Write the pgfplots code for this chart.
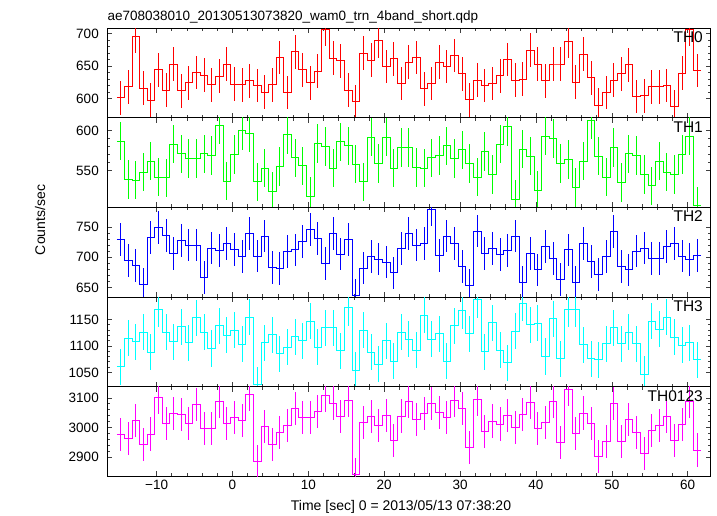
\documentclass[border=0pt]{standalone}
\usepackage{fontspec}
\setmainfont{Liberation Sans}
\usepackage{pgfplots}
\usepackage{pgfplotstable}
\pgfplotsset{compat=1.18}
\definecolor{cR}{RGB}{255,0,0}
\definecolor{cG}{RGB}{0,255,0}
\definecolor{cB}{RGB}{0,0,255}
\definecolor{cC}{RGB}{0,255,255}
\definecolor{cM}{RGB}{255,0,255}
\pgfplotstableread{
l t a b c d e
-15.25 -14.75 601 587 729 1061 2977
-14.25 -13.75 618 539 694 1115 2963
-13.25 -12.75 696 538 686 1108 3023
-12.25 -11.75 616 548 655 1126 2944
-11.25 -10.75 597 562 732 1088 2978
-10.25 -9.75 644 542 749 1169 3102
-9.25 -8.75 613 541 736 1126 3014
-8.25 -7.75 653 583 706 1108 3047
-7.25 -6.75 612 571 728 1136 3044
-6.25 -5.75 624 565 720 1106 3014
-5.25 -4.75 640 565 720 1153 3077
-4.25 -3.75 636 571 666 1126 2997
-3.25 -2.75 621 569 715 1095 2997
-2.25 -1.75 634 607 711 1138 3087
-1.25 -0.75 653 537 723 1120 3014
-0.25 0.25 622 570 713 1130 3034
0.75 1.25 621 600 701 1103 3023
1.75 2.25 627 597 739 1154 3113
2.75 3.25 620 536 702 1027 2884
3.75 4.25 610 553 735 1106 3003
4.75 5.25 621 524 683 1121 2944
5.75 6.25 663 555 681 1085 2983
6.75 7.25 609 595 709 1097 3007
7.75 8.25 672 566 712 1117 3063
8.75 9.25 644 556 726 1110 3033
9.75 10.25 624 518 746 1147 3033
10.75 11.25 642 584 731 1098 3053
11.75 12.25 706 580 690 1134 3107
12.75 13.25 662 553 739 1134 3083
13.75 14.25 658 586 705 1091 3038
14.75 15.25 613 581 729 1172 3092
15.75 16.25 595 558 637 1054 2842
16.75 17.25 670 536 682 1130 3017
17.75 18.25 659 592 701 1088 3038
18.75 19.25 689 559 697 1065 3008
19.75 20.25 649 592 692 1110 3041
20.75 21.25 661 553 674 1071 2957
21.75 22.25 623 579 714 1126 3039
22.75 23.25 656 579 739 1113 3087
23.75 24.25 663 554 720 1092 3028
24.75 25.25 615 553 722 1158 3047
25.75 26.25 623 566 779 1113 3080
26.75 27.25 656 569 703 1123 3050
27.75 28.25 649 581 735 1071 3033
28.75 29.25 666 565 722 1138 3090
29.75 30.25 638 576 685 1166 3063
30.75 31.25 598 559 653 1123 2933
31.75 32.25 628 542 743 1187 3096
32.75 33.25 620 574 706 1089 2986
33.75 34.25 623 545 714 1144 3022
34.75 35.25 635 583 704 1092 3012
35.75 36.25 660 605 711 1068 3042
36.75 37.25 628 514 735 1128 3001
37.75 38.25 630 577 658 1180 3043
38.75 39.25 674 568 706 1140 3084
39.75 40.25 653 525 679 1143 2997
40.75 41.25 627 593 717 1080 3016
41.75 42.25 653 590 698 1151 3089
42.75 43.25 653 559 663 1076 2950
43.75 44.25 688 564 712 1169 3130
44.75 45.25 625 529 658 1169 2981
45.75 46.25 668 562 722 1102 3049
46.75 47.25 632 613 693 1076 3014
47.75 48.25 590 568 671 1074 2902
48.75 49.25 609 542 701 1104 2952
49.75 50.25 628 579 742 1134 3082
50.75 51.25 638 535 684 1104 2954
51.75 52.25 652 571 679 1126 3027
52.75 53.25 603 569 710 1104 2984
53.75 54.25 604 545 715 1047 2911
54.75 55.25 618 531 698 1147 2991
55.75 56.25 618 562 698 1132 3008
56.75 57.25 620 548 717 1154 3038
57.75 58.25 587 545 723 1116 2957
58.75 59.25 639 570 702 1101 3011
59.75 60.25 706 593 696 1106 3089
60.75 61.25 643 506 703 1074 2924
61.75 62.25 643 506 703 1074 2924
}\data
\pgfplotsset{
  panel/.style={
    scale only axis, width=603.2pt, height=89.6pt, anchor=north west,
    xmin=-16.5, xmax=63, xtick={-10,0,...,60}, minor x tick num=4,
    minor y tick num=4, tick align=inside,
    major tick length=5pt, minor tick length=3pt,
    every tick/.style={black!75, line width=0.7pt},
    axis line style={line width=0.9pt},
    xticklabels={},
    ticklabel style={font=\fontsize{13.5}{16}\selectfont},
    /pgf/number format/assume math mode=true,
    /pgf/number format/set thousands separator={},
    yticklabel style={xshift=-5pt},
  },
}
\tikzset{lab/.style={font=\fontsize{15.5}{18}\selectfont, anchor=north east, inner sep=0pt}}
\begin{document}
\begin{tikzpicture}
\useasboundingbox (0,0) rectangle (717pt,516pt);
\begin{axis}[panel, at={(107.3pt,487.7pt)}, ymin=570, ymax=708, ytick={600,650,700}]
\addplot[cR, const plot mark left, no marks, line width=0.8pt] table[x=l, y=a] {\data};
\addplot[cR, draw=none, no marks, forget plot, skip coords between index={77}{78},
  error bars/.cd, y dir=both, y fixed=26, error mark=none,
  error bar style={draw=cR, solid, line width=0.9pt}] table[x=t, y=a] {\data};
\node[lab] at (rel axis cs:0.9876,0.962) {TH0};
\end{axis}
\begin{axis}[panel, at={(107.3pt,398.1pt)}, ymin=504, ymax=616, ytick={550,600}]
\addplot[cG, const plot mark left, no marks, line width=0.8pt] table[x=l, y=b] {\data};
\addplot[cG, draw=none, no marks, forget plot, skip coords between index={77}{78},
  error bars/.cd, y dir=both, y fixed=24, error mark=none,
  error bar style={draw=cG, solid, line width=0.9pt}] table[x=t, y=b] {\data};
\node[lab] at (rel axis cs:0.9876,0.962) {TH1};
\end{axis}
\begin{axis}[panel, at={(107.3pt,308.5pt)}, ymin=634, ymax=782, ytick={650,700,750}]
\addplot[cB, const plot mark left, no marks, line width=0.8pt] table[x=l, y=c] {\data};
\addplot[cB, draw=none, no marks, forget plot, skip coords between index={77}{78},
  error bars/.cd, y dir=both, y fixed=27, error mark=none,
  error bar style={draw=cB, solid, line width=0.9pt}] table[x=t, y=c] {\data};
\node[lab] at (rel axis cs:0.9876,0.962) {TH2};
\end{axis}
\begin{axis}[panel, at={(107.3pt,218.9pt)}, ymin=1023, ymax=1192, ytick={1050,1100,1150}]
\addplot[cC, const plot mark left, no marks, line width=0.8pt] table[x=l, y=d] {\data};
\addplot[cC, draw=none, no marks, forget plot, skip coords between index={77}{78},
  error bars/.cd, y dir=both, y fixed=34, error mark=none,
  error bar style={draw=cC, solid, line width=0.9pt}] table[x=t, y=d] {\data};
\node[lab] at (rel axis cs:0.9876,0.962) {TH3};
\end{axis}
\begin{axis}[panel, at={(107.3pt,129.3pt)}, ymin=2835, ymax=3138, ytick={2900,3000,3100},
  xticklabels={−10,0,10,20,30,40,50,60}]
\addplot[cM, const plot mark left, no marks, line width=0.8pt] table[x=l, y=e] {\data};
\addplot[cM, draw=none, no marks, forget plot, skip coords between index={77}{78},
  error bars/.cd, y dir=both, y fixed=56, error mark=none,
  error bar style={draw=cM, solid, line width=0.9pt}] table[x=t, y=e] {\data};
\node[lab] at (rel axis cs:0.9876,0.962) {TH0123};
\end{axis}
\node[anchor=base west, inner sep=0pt, font=\fontsize{13.5}{16}\selectfont] at (107.3pt,495.5pt) {ae708038010\_20130513073820\_wam0\_trn\_4band\_short.qdp};
\node[rotate=90, font=\fontsize{14}{16}\selectfont] at (40pt,296pt) {Counts/sec};
\node[font=\fontsize{14}{16}\selectfont] at (401pt,9pt) {Time [sec] 0 = 2013/05/13 07:38:20};
\end{tikzpicture}
\end{document}
